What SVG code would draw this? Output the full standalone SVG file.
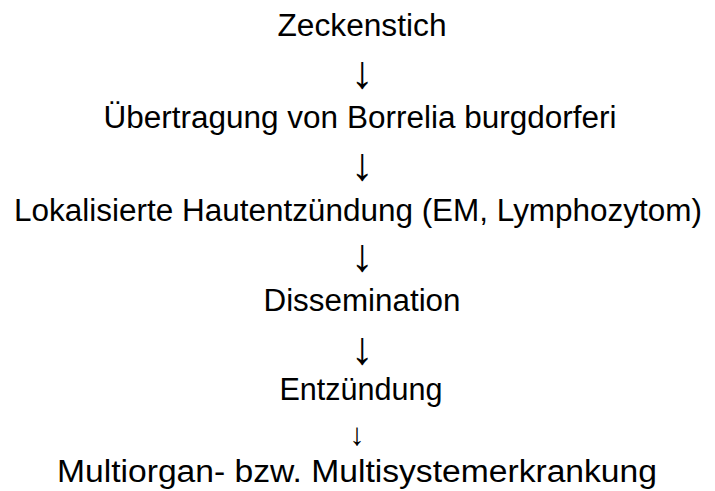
<svg xmlns="http://www.w3.org/2000/svg" width="715" height="491" viewBox="0 0 715 491">
<style>
.t{font-family:"Liberation Sans",Arial,sans-serif;font-size:31px;fill:#000;text-anchor:middle}
.a{font-family:"Liberation Sans",Arial,sans-serif;font-size:46px;fill:#000;text-anchor:middle}
.s{font-size:31px}
</style>
<rect width="715" height="491" fill="#fff"/>
<g id="n1"><text class="t" x="362" y="36" textLength="169" lengthAdjust="spacingAndGlyphs">Zeckenstich</text></g>
<g id="n2"><text class="t" x="360" y="128" textLength="513" lengthAdjust="spacingAndGlyphs">Übertragung von Borrelia burgdorferi</text></g>
<g id="n3"><text class="t" x="358" y="221" textLength="688" lengthAdjust="spacingAndGlyphs">Lokalisierte Hautentzündung (EM, Lymphozytom)</text></g>
<g id="n4"><text class="t" x="362" y="311" textLength="197" lengthAdjust="spacingAndGlyphs">Dissemination</text></g>
<g id="n5"><text class="t" x="361" y="400" textLength="163" lengthAdjust="spacingAndGlyphs">Entzündung</text></g>
<g id="n6"><text class="t" x="357" y="482" textLength="600" lengthAdjust="spacingAndGlyphs">Multiorgan- bzw. Multisystemerkrankung</text></g>
<g id="connectors">
<text class="a" x="362" y="88">↓</text>
<text class="a" x="362" y="180">↓</text>
<text class="a" x="362" y="271">↓</text>
<text class="a" x="362" y="364">↓</text>
<text class="a s" x="357" y="445">↓</text>
</g>
</svg>
